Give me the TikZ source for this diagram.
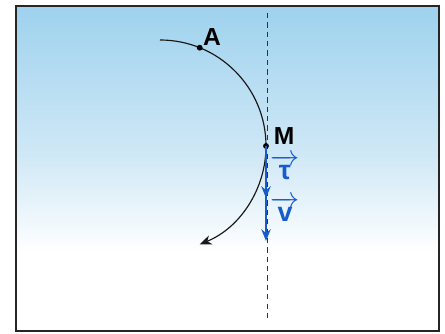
\documentclass[tikz,border=0pt]{standalone}
\usepackage{amsmath}
\usepackage{fontspec}
\setmainfont{Liberation Sans}
\usetikzlibrary{arrows.meta,calc}

\definecolor{skytop}{RGB}{158,210,238}
\definecolor{skymid}{RGB}{208,232,246}
\definecolor{vecblue}{RGB}{22,92,205}
\pgfdeclareverticalshading{sky}{100bp}{color(0bp)=(white); color(37bp)=(white); color(52bp)=(skymid); color(75bp)=(skytop); color(100bp)=(skytop)}

\tikzset{
	frame/.style={draw=black!85, line width=0.06cm},
	guide/.style={draw=black!80, line width=0.8pt, dash pattern=on 4.5pt off 3.5pt},
	path/.style={draw=black!90, line width=1pt, -{Stealth[length=10pt,width=8pt,inset=3pt]}},
	vec/.style={draw=vecblue, line width=2pt, -{Stealth[length=10pt,width=8pt]}},
	pt/.style={circle, fill=black, inner sep=0pt, minimum size=5pt},
	lbl/.style={inner sep=0pt, text depth=0pt, font=\fontsize{21}{23}\selectfont\bfseries},
	veclbl/.style={text=vecblue, inner sep=0pt, text depth=0pt, font=\fontsize{23}{25}\selectfont\bfseries}
}

\begin{document}
\begin{tikzpicture}[x=0.03cm, y=0.03cm]
	\useasboundingbox (0,0) rectangle (445,333);

	% sky background and frame
	\shade[shading=sky] (16,2) rectangle (439,327);
	\draw[frame] (16,2) rectangle (439,327);

	% vertical guide through M
	\coordinate (top) at (267,320);
	\coordinate (bot) at (267,15);
	\draw[guide] (top) -- (bot);

	% trajectory: arc of a circle, centre O
	\coordinate (O) at (160,187);
	\draw[path] (O) ++(90:3.18cm) arc[start angle=90, end angle=-68, radius=3.18cm];

	% points on the trajectory
	\node[pt] (A) at ($(O)+(68:106)$) {};
	\node[pt] (M) at ($(O)+(0:106)$) {};
	\node[lbl] (Alabel) at (212,296) {A};
	\node[lbl] (Mlabel) at (284,197) {M};

	% tangent unit vector and velocity
	\coordinate (vtip) at (266,92);
	\coordinate (tautip) at (266,135);
	\draw[vec] (M.center) -- (vtip);
	\draw[vec] (M.center) -- (tautip);
	\node[veclbl] (tau) at (285,166) {$\overrightarrow{\hspace{3pt}\text{τ}\hspace{3pt}}$};
	\node[veclbl] (v) at (285,124) {$\overrightarrow{\hspace{3pt}\text{v}\hspace{3pt}}$};
\end{tikzpicture}
\end{document}
